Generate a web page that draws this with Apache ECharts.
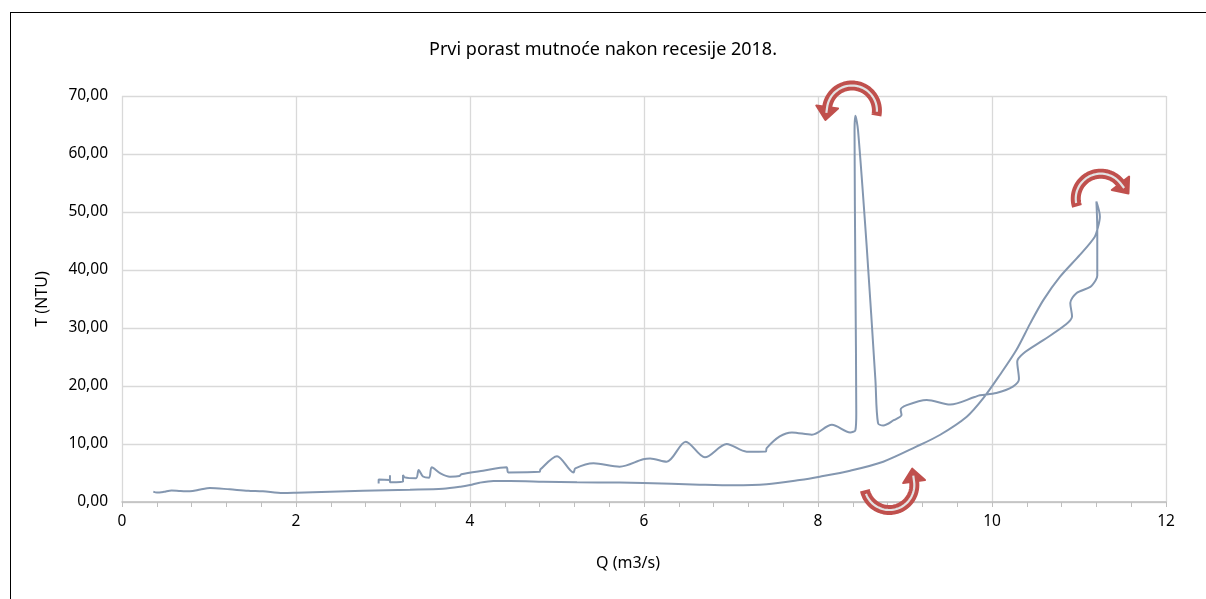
<!DOCTYPE html>
<html>
<head>
<meta charset="utf-8">
<script src="https://cdn.jsdelivr.net/npm/echarts@6/dist/echarts.min.js"></script>
<style>
html,body{margin:0;padding:0;background:#fff;}
#frame{position:absolute;left:10px;top:12px;width:1300px;height:700px;border:1.5px solid #000;box-sizing:border-box;}
#chart{position:absolute;left:0;top:0;width:1206px;height:599px;}
</style>
</head>
<body>
<div id="frame"></div>
<div id="chart"></div>
<script>
// Discharge Q (m3/s) and turbidity T (NTU), in time order
const qValues = [0.36,0.40,0.48,0.57,0.67,0.78,0.90,1.01,1.24,1.45,1.62,1.85,2.00,2.39,2.77,3.31,3.69,3.89,4.00,4.11,4.27,4.46,4.84,5.23,5.72,5.99,6.64,7.03,7.41,7.79,8.02,8.37,8.75,9.13,9.40,9.71,9.90,10.09,10.28,10.44,10.59,10.78,11.01,11.18,11.22,11.24,11.20,
  11.21,11.21,11.19,11.13,10.97,10.90,10.92,10.84,10.59,10.36,10.29,10.31,10.24,10.05,9.86,9.80,9.52,9.25,9.02,8.95,8.96,8.87,8.75,8.69,8.66,8.56,8.46,8.43,8.42,8.43,8.44,8.43,8.37,8.16,7.93,7.70,7.56,7.41,7.40,7.18,6.95,6.70,6.48,6.26,6.07,5.99,5.72,5.42,5.21,5.19,5.00,4.81,4.80,4.44,4.42,4.15,3.90,3.88,3.77,3.66,3.56,3.53,3.46,3.41,3.38,3.25,3.23,3.23,3.08,3.08,3.08,2.95,2.95];
const tValues = [1.78,1.62,1.75,2.00,1.90,1.84,2.15,2.41,2.18,1.95,1.84,1.55,1.60,1.78,1.95,2.13,2.30,2.64,2.93,3.33,3.62,3.62,3.51,3.39,3.35,3.28,2.99,2.87,3.05,3.79,4.37,5.40,6.95,9.54,11.55,14.70,17.90,21.90,26.20,30.80,34.80,38.80,42.60,45.70,47.50,49.20,51.80,
  47.0,39.0,38.2,37.1,36.0,34.3,32.0,30.5,27.9,25.6,24.2,21.2,19.9,18.8,18.4,18.1,16.8,17.6,16.7,15.9,15.0,14.1,13.2,13.6,21.0,44.0,64.1,66.6,64.0,38.3,15.3,12.4,12.0,13.3,11.6,12.0,11.3,9.3,8.7,8.67,10.0,7.7,10.4,6.95,7.5,7.36,6.09,6.67,5.8,5.1,7.9,5.63,5.2,5.1,6.0,5.4,4.77,4.48,4.37,4.94,6.0,4.2,4.4,5.5,4.1,4.25,4.65,3.5,3.4,4.6,3.8,3.9,3.2];
const xTicks = [0,2,4,6,8,10,12];
const yTicks = [0,10,20,30,40,50,60,70];
// curved-arrow annotations: centre (Q,T), start/end angle in degrees
const arrowCentres = [[8.39,67.5],[11.25,52.3],[8.82,2.93]];
const arrowAngles = [[12,-172],[162,322],[168,-8]];

const points = qValues.map((q,i)=>[q,tValues[i]]);
const chart = echarts.init(document.getElementById('chart'));
const FONT = 'Noto Sans';
chart.setOption({
  animation:false,
  title:{text:'Prvi porast mutnoće nakon recesije 2018.',left:'center',top:36,
    textStyle:{fontFamily:FONT,fontSize:18,fontWeight:'normal',color:'#000'}},
  grid:{left:122,right:40,top:96,bottom:97},
  xAxis:{type:'value',min:xTicks[0],max:xTicks[xTicks.length-1],interval:2,
    name:'Q (m3/s)',nameLocation:'middle',nameGap:53,
    nameTextStyle:{fontFamily:FONT,fontSize:16,color:'#000',padding:[0,32,0,0]},
    axisLine:{show:true,lineStyle:{color:'#bfbfbf',width:1.5}},
    axisTick:{show:true,length:5,lineStyle:{color:'#bfbfbf'}},
    minorTick:{show:true,splitNumber:5,length:5,lineStyle:{color:'#bfbfbf'}},
    axisLabel:{fontFamily:FONT,fontSize:15.5,color:'#000',margin:12},
    splitLine:{show:true,lineStyle:{color:'#d9d9d9',width:1.3}}},
  yAxis:{type:'value',min:yTicks[0],max:yTicks[yTicks.length-1],interval:10,
    name:'T (NTU)',nameLocation:'middle',nameGap:72,nameRotate:90,
    nameTextStyle:{fontFamily:FONT,fontSize:16,color:'#000'},
    axisLine:{show:false},axisTick:{show:false},
    axisLabel:{fontFamily:FONT,fontSize:15.5,color:'#000',margin:14,
      formatter:v=>v.toFixed(2).replace('.',',')},
    splitLine:{show:true,lineStyle:{color:'#d9d9d9',width:1.3}}},
  series:[{type:'line',data:points,smooth:0.3,showSymbol:false,
    lineStyle:{color:'#8497b0',width:2}}]
});

function buildArrow(c, ang){
  const p = chart.convertToPixel({gridIndex:0}, c);
  const r = 25, a0 = ang[0]*Math.PI/180, a1 = ang[1]*Math.PI/180;
  const pts = [];
  const n = 40;
  for(let i=0;i<=n;i++){
    const a = a0 + (a1-a0)*i/n;
    pts.push([p[0]+r*Math.cos(a), p[1]+r*Math.sin(a)]);
  }
  const end = pts[pts.length-1];
  const dir = Math.sign(a1-a0);
  const tx = -Math.sin(a1)*dir, ty = Math.cos(a1)*dir;
  const nx = -ty, ny = tx;
  const tip = [end[0]+tx*13, end[1]+ty*13];
  const b1 = [end[0]+nx*11, end[1]+ny*11];
  const b2 = [end[0]-nx*11, end[1]-ny*11];
  const red = '#c0504d';
  return [
    {type:'polyline',shape:{points:pts},style:{stroke:red,lineWidth:10,fill:null,lineCap:'butt',lineJoin:'round'},z:100},
    {type:'polygon',shape:{points:[tip,b1,b2]},style:{fill:red,stroke:red,lineWidth:2,lineJoin:'round'},z:100},
    {type:'polyline',shape:{points:pts.slice(2).concat([[end[0]+tx*6,end[1]+ty*6]])},style:{stroke:'#e3e3e3',lineWidth:2.2,fill:null},z:101}
  ];
}
let g = [];
arrowCentres.forEach((c,i)=>{ g = g.concat(buildArrow(c, arrowAngles[i])); });
chart.setOption({graphic:g});
</script>
</body>
</html>
